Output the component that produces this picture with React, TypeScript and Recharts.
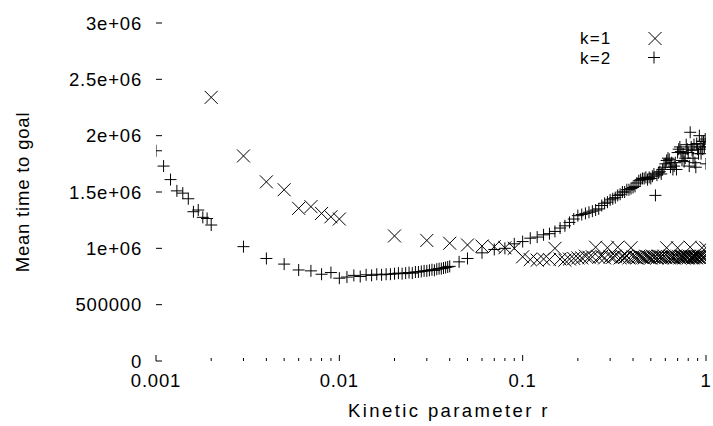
import React from 'react';
import { ScatterChart, Scatter, XAxis, YAxis, Legend } from 'recharts';

const FONT = '"Liberation Sans", Arial, Helvetica, sans-serif';
const textStyle: React.CSSProperties = { fontFamily: FONT, fontSize: 18.5, letterSpacing: 0.8, fill: '#000' };
const xLabelStyle: React.CSSProperties = { ...textStyle, letterSpacing: 2.4 };
const legendStyle: React.CSSProperties = { ...textStyle, fontSize: 17, letterSpacing: 1.2 };

// axis ticks
const xAllTicks = [
  0.001, 0.002, 0.003, 0.004, 0.005, 0.006, 0.007, 0.008, 0.009,
  0.01, 0.02, 0.03, 0.04, 0.05, 0.06, 0.07, 0.08, 0.09,
  0.1, 0.2, 0.3, 0.4, 0.5, 0.6, 0.7, 0.8, 0.9, 1,
];
const xMajorTicks = [0.001, 0.01, 0.1, 1];
const xMajorLabels = ['0.001', '0.01', '0.1', '1'];
const yTicks = [0, 500000, 1000000, 1500000, 2000000, 2500000, 3000000];
const yTickLabels = ['0', '500000', '1e+06', '1.5e+06', '2e+06', '2.5e+06', '3e+06'];

// series k=1
const k1R = [
  0.002, 0.003, 0.004, 0.005, 0.006, 0.007, 0.008, 0.009, 0.01,
  0.02, 0.03, 0.04, 0.05, 0.06, 0.07, 0.08, 0.09, 0.1,
  0.11, 0.12, 0.13, 0.14, 0.15, 0.16, 0.17, 0.18, 0.19, 0.2,
  0.21, 0.22, 0.23, 0.24, 0.25, 0.26, 0.27, 0.28, 0.29, 0.3,
  0.31, 0.32, 0.33, 0.34, 0.35, 0.36, 0.37, 0.38, 0.39, 0.4,
  0.41, 0.42, 0.43, 0.44, 0.45, 0.46, 0.47, 0.48, 0.49, 0.5,
  0.51, 0.52, 0.53, 0.54, 0.55, 0.56, 0.57, 0.58, 0.59, 0.6,
  0.61, 0.62, 0.63, 0.64, 0.65, 0.66, 0.67, 0.68, 0.69, 0.7,
  0.71, 0.72, 0.73, 0.74, 0.75, 0.76, 0.77, 0.78, 0.79, 0.8,
  0.81, 0.82, 0.83, 0.84, 0.85, 0.86, 0.87, 0.88, 0.89, 0.9,
  0.91, 0.92, 0.93, 0.94, 0.95, 0.96, 0.97, 0.98, 0.99, 1.0,
];
const k1T = [
  2340000, 1820000, 1590000, 1520000, 1355000, 1370000, 1310000, 1280000, 1260000,
  1110000, 1070000, 1045000, 1030000, 1020000, 1015000, 1005000, 1000000, 925000,
  900000, 895000, 905000, 900000, 1000000, 905000, 895000, 905000, 910000, 915000,
  915000, 930000, 920000, 925000, 1010000, 920000, 930000, 915000, 1005000, 925000,
  920000, 930000, 1010000, 915000, 925000, 920000, 930000, 915000, 1005000, 925000,
  920000, 915000, 930000, 925000, 920000, 915000, 930000, 925000, 920000, 915000,
  930000, 920000, 925000, 915000, 930000, 920000, 925000, 915000, 930000, 920000,
  1005000, 925000, 915000, 930000, 920000, 925000, 915000, 930000, 920000, 1005000,
  925000, 915000, 930000, 920000, 925000, 915000, 930000, 920000, 925000, 915000,
  930000, 1010000, 920000, 925000, 915000, 930000, 920000, 925000, 915000, 930000,
  920000, 925000, 915000, 930000, 1005000, 920000, 925000, 915000, 930000, 1005000,
];

// series k=2
const k2R = [
  0.001, 0.0011, 0.0012, 0.0013, 0.0014, 0.0015, 0.0016, 0.0017, 0.0018, 0.0019, 0.002,
  0.003, 0.004, 0.005, 0.006, 0.007, 0.008, 0.009, 0.01,
  0.011, 0.012, 0.013, 0.014, 0.015, 0.016, 0.017, 0.018, 0.019, 0.02,
  0.021, 0.022, 0.023, 0.024, 0.025, 0.026, 0.027, 0.028, 0.029, 0.03,
  0.031, 0.032, 0.033, 0.034, 0.035, 0.036, 0.037, 0.038, 0.039, 0.04,
  0.045, 0.05, 0.06, 0.07, 0.08, 0.09, 0.1,
  0.11, 0.12, 0.13, 0.14, 0.15, 0.16, 0.17, 0.18, 0.19, 0.2,
  0.21, 0.22, 0.23, 0.24, 0.25, 0.26, 0.27, 0.28, 0.29, 0.3,
  0.31, 0.32, 0.33, 0.34, 0.35, 0.36, 0.37, 0.38, 0.39, 0.4,
  0.41, 0.42, 0.43, 0.44, 0.45, 0.46, 0.47, 0.48, 0.49, 0.5,
  0.51, 0.52, 0.53, 0.54, 0.55, 0.56, 0.57, 0.58, 0.59, 0.6,
  0.61, 0.62, 0.63, 0.64, 0.65, 0.66, 0.67, 0.68, 0.69, 0.7,
  0.71, 0.72, 0.73, 0.74, 0.75, 0.76, 0.77, 0.78, 0.79, 0.8,
  0.81, 0.82, 0.83, 0.84, 0.85, 0.86, 0.87, 0.88, 0.89, 0.9,
  0.91, 0.92, 0.93, 0.94, 0.95, 0.96, 0.97, 0.98, 0.99, 1.0,
];
const k2T = [
  1866000, 1730000, 1610000, 1510000, 1490000, 1440000, 1325000, 1340000, 1275000, 1265000, 1207000,
  1015000, 910000, 860000, 808000, 800000, 770000, 785000, 735000,
  745000, 760000, 750000, 765000, 760000, 770000, 765000, 770000, 770000, 775000,
  780000, 775000, 780000, 785000, 780000, 790000, 790000, 795000, 800000, 800000,
  805000, 810000, 805000, 815000, 820000, 820000, 825000, 830000, 835000, 840000,
  880000, 910000, 960000, 990000, 1000000, 1040000, 1060000,
  1090000, 1100000, 1120000, 1130000, 1150000, 1180000, 1200000, 1230000, 1260000, 1290000,
  1300000, 1310000, 1320000, 1330000, 1340000, 1350000, 1380000, 1400000, 1410000, 1430000,
  1440000, 1450000, 1470000, 1480000, 1500000, 1500000, 1520000, 1520000, 1530000, 1540000,
  1550000, 1580000, 1600000, 1610000, 1620000, 1620000, 1630000, 1610000, 1630000, 1620000,
  1640000, 1660000, 1470000, 1650000, 1670000, 1680000, 1660000, 1700000, 1720000, 1750000,
  1780000, 1800000, 1790000, 1720000, 1760000, 1700000, 1730000, 1760000, 1700000, 1850000,
  1880000, 1900000, 1860000, 1780000, 1840000, 1770000, 1800000, 1920000, 1880000, 1850000,
  1730000, 2030000, 1900000, 1870000, 1800000, 1920000, 1760000, 1720000, 1930000, 1880000,
  1840000, 2000000, 1900000, 1840000, 1950000, 1880000, 1950000, 1900000, 1970000, 1750000,
];

const k1Data = k1R.map((r, i) => ({ r, t: k1T[i] }));
const k2Data = k2R.map((r, i) => ({ r, t: k2T[i] }));

const crossPath = (cx: number, cy: number, s: number) =>
  `M${cx - s},${cy - s}L${cx + s},${cy + s}M${cx - s},${cy + s}L${cx + s},${cy - s}`;
const plusPath = (cx: number, cy: number, s: number) =>
  `M${cx - s},${cy}L${cx + s},${cy}M${cx},${cy - s}L${cx},${cy + s}`;

const XShape = (p: any) => {
  const { cx, cy } = p;
  if (cx == null || cy == null) return <g />;
  return <path d={crossPath(cx, cy, 6.5)} stroke="#000" strokeWidth={1} fill="none" />;
};
const PlusShape = (p: any) => {
  const { cx, cy } = p;
  if (cx == null || cy == null) return <g />;
  return <path d={plusPath(cx, cy, 6)} stroke="#000" strokeWidth={1} fill="none" />;
};
const EmptyShape = () => <g />;

const tickLen = (v: number) => (xMajorTicks.indexOf(v) >= 0 ? 6 : 3);

const BottomTick = (p: any) => {
  const { x, y, payload } = p;
  const idx = xMajorTicks.indexOf(payload.value);
  return (
    <g>
      <line x1={x} x2={x} y1={y} y2={y - tickLen(payload.value)} stroke="#000" strokeWidth={1} />
      {idx >= 0 && (
        <text x={x} y={y + 26} textAnchor="middle" style={textStyle}>
          {xMajorLabels[idx]}
        </text>
      )}
    </g>
  );
};
const TopTick = (p: any) => {
  const { x, y, payload } = p;
  return <line x1={x} x2={x} y1={y} y2={y + tickLen(payload.value)} stroke="#000" strokeWidth={1} />;
};
const LeftTick = (p: any) => {
  const { x, y, payload } = p;
  const idx = yTicks.indexOf(payload.value);
  return (
    <g>
      <line x1={x} x2={x + 6} y1={y} y2={y} stroke="#000" strokeWidth={1} />
      <text x={x - 14} y={y + 6.5} textAnchor="end" style={textStyle}>
        {yTickLabels[idx]}
      </text>
    </g>
  );
};
const RightTick = (p: any) => {
  const { x, y } = p;
  return <line x1={x - 6} x2={x} y1={y} y2={y} stroke="#000" strokeWidth={1} />;
};

const YLabel = (p: any) => {
  const vb = p.viewBox || { x: 0, y: 23, width: 156, height: 338 };
  const cx = vb.x + 22;
  const cy = vb.y + vb.height / 2;
  return (
    <text x={cx} y={cy} transform={`rotate(-90 ${cx} ${cy})`} textAnchor="middle" dominantBaseline="central" style={textStyle}>
      Mean time to goal
    </text>
  );
};
const XLabel = (p: any) => {
  const vb = p.viewBox || { x: 156, y: 361, width: 550, height: 65 };
  return (
    <text x={vb.x + vb.width / 2 + 18} y={vb.y + 56} textAnchor="middle" style={xLabelStyle}>
      Kinetic parameter r
    </text>
  );
};

const LegendContent = (props: any) => {
  const items = (props.payload || []).filter((e: any) => e.value === 'k=1' || e.value === 'k=2');
  return (
    <svg width={130} height={48} style={{ overflow: 'visible', display: 'block' }}>
      {items.map((e: any, i: number) => (
        <g key={e.value}>
          <text x={20} y={19 + i * 20} style={legendStyle}>
            {e.value}
          </text>
          {e.value === 'k=1' ? (
            <path d={crossPath(95, 13.5 + i * 20, 6.5)} stroke="#000" fill="none" />
          ) : (
            <path d={plusPath(94, 13.5 + i * 19, 6)} stroke="#000" fill="none" />
          )}
        </g>
      ))}
    </svg>
  );
};

export default function App() {
  return (
    <div style={{ position: 'absolute', left: 0, top: 0, width: 713, height: 426, background: '#fff' }}>
      <ScatterChart width={713} height={426} margin={{ top: 23, right: 7, bottom: 0, left: 0 }}>
        <XAxis
          dataKey="r"
          type="number"
          scale="log"
          domain={[0.001, 1]}
          allowDataOverflow
          ticks={xAllTicks}
          interval={0}
          height={65}
          axisLine={false}
          tickLine={false}
          tickSize={0}
          tickMargin={0}
          tick={BottomTick}
          label={XLabel}
        />
        <XAxis
          xAxisId="top"
          orientation="top"
          dataKey="r"
          type="number"
          scale="log"
          domain={[0.001, 1]}
          allowDataOverflow
          ticks={xAllTicks}
          interval={0}
          height={0}
          axisLine={false}
          tickLine={false}
          tickSize={0}
          tickMargin={0}
          tick={TopTick}
        />
        <YAxis
          dataKey="t"
          type="number"
          domain={[0, 3000000]}
          allowDataOverflow
          ticks={yTicks}
          interval={0}
          width={156}
          axisLine={false}
          tickLine={false}
          tickSize={0}
          tickMargin={0}
          tick={LeftTick}
          label={YLabel}
        />
        <YAxis
          yAxisId="right"
          orientation="right"
          dataKey="t"
          type="number"
          domain={[0, 3000000]}
          allowDataOverflow
          ticks={yTicks}
          interval={0}
          width={0}
          axisLine={false}
          tickLine={false}
          tickSize={0}
          tickMargin={0}
          tick={RightTick}
        />
        <Legend
          layout="horizontal"
          verticalAlign="middle"
          align="center"
          content={LegendContent}
          wrapperStyle={{ position: 'absolute', left: 560, top: 25, width: 130, height: 48 }}
        />
        <Scatter name="k=1" data={k1Data} shape={XShape} isAnimationActive={false} />
        <Scatter name="k=2" data={k2Data} shape={PlusShape} isAnimationActive={false} />
        <Scatter
          name="mirror"
          xAxisId="top"
          yAxisId="right"
          data={k2Data}
          shape={EmptyShape}
          legendType="none"
          isAnimationActive={false}
        />
      </ScatterChart>
    </div>
  );
}
